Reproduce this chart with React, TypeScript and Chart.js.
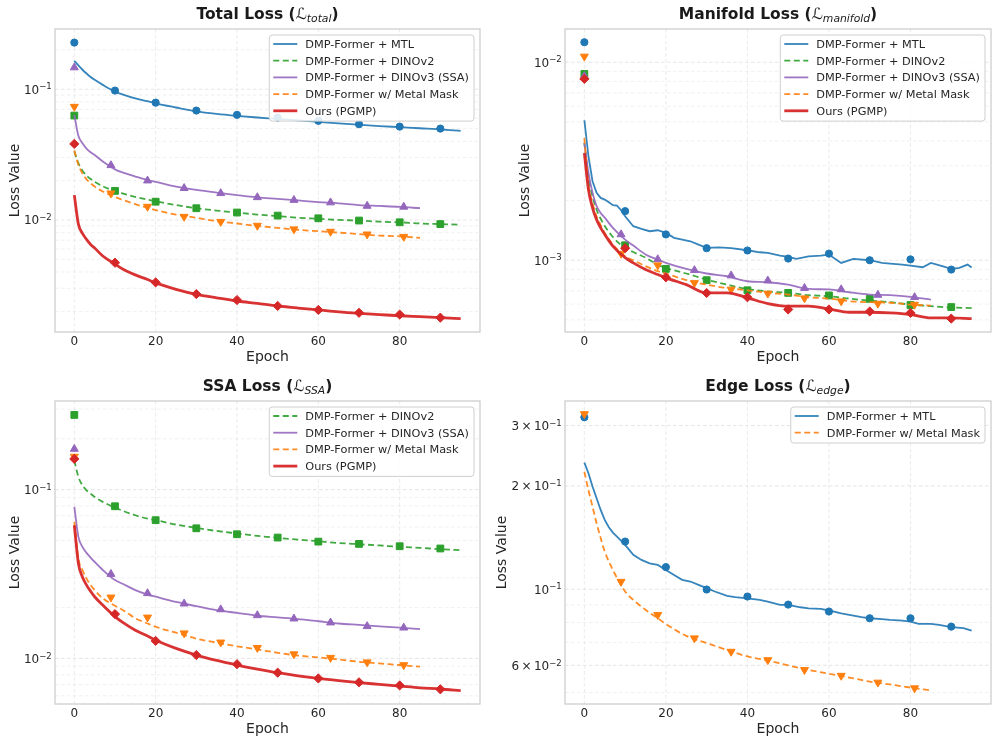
import React, { useEffect, useRef } from "react";
import { Chart, registerables } from "chart.js";

Chart.register(...registerables);

const FONT = '"DejaVu Sans", "Liberation Sans", Arial, sans-serif';
const TEXT = "#262626";

// ---------------- shared epochs / ticks ----------------
const LINE_EPOCHS = [0, 1, 2, 3, 4, 5, 7, 10, 12, 15, 18, 20, 25, 30, 35, 40, 45, 50, 55, 60, 65, 70, 75, 80, 85, 90, 95];
const MARKER_EPOCHS_10 = [0, 10, 20, 30, 40, 50, 60, 70, 80, 90];
const MARKER_EPOCHS_9 = [0, 9, 18, 27, 36, 45, 54, 63, 72, 81];
const MANIFOLD_MTL_EPOCHS = [0, 1, 2, 3, 4, 5, 6, 7, 8, 9, 10, 12, 14, 16, 18, 20, 22, 24, 26, 28, 30, 33, 36, 40, 43, 45, 48, 50, 52, 55, 58, 60, 63, 66, 70, 73, 75, 78, 80, 83, 85, 88, 90, 92, 94, 95];
const EDGE_MTL_EPOCHS = [0, 1, 2, 3, 4, 5, 6, 7, 8, 10, 12, 14, 16, 18, 20, 22, 24, 26, 28, 30, 32, 35, 37, 40, 43, 45, 48, 50, 53, 55, 58, 60, 63, 65, 68, 70, 73, 75, 78, 80, 82, 85, 87, 90, 93, 95];
const X_TICK_VALUES = [0, 20, 40, 60, 80];
const X_TICK_LABELS = ["0", "20", "40", "60", "80"];

// ---------------- Total loss ----------------
const totalMtl = [0.165, 0.152, 0.141, 0.132, 0.124, 0.118, 0.108, 0.096, 0.091, 0.085, 0.081, 0.078, 0.0725, 0.0678, 0.0648, 0.0626, 0.0608, 0.0593, 0.0577, 0.0563, 0.0548, 0.0535, 0.0523, 0.0513, 0.0503, 0.0494, 0.0481];
const totalDino2 = [0.0335, 0.0272, 0.0238, 0.0219, 0.0206, 0.0196, 0.0181, 0.0166, 0.0159, 0.015, 0.0143, 0.0139, 0.013, 0.0123, 0.0118, 0.0114, 0.011, 0.0107, 0.0104, 0.0102, 0.01, 0.0099, 0.0097, 0.0096, 0.0094, 0.0093, 0.0092];
const totalDino3 = [0.0637, 0.044, 0.0386, 0.0352, 0.033, 0.0314, 0.028, 0.0244, 0.023, 0.0215, 0.0202, 0.0196, 0.018, 0.017, 0.0162, 0.0155, 0.0149, 0.0145, 0.0141, 0.0137, 0.0134, 0.013, 0.0128, 0.0126, 0.0123];
const totalMetal = [0.034, 0.0265, 0.0226, 0.0205, 0.0191, 0.018, 0.0165, 0.015, 0.0142, 0.0132, 0.0124, 0.0119, 0.011, 0.0104, 0.0098, 0.0094, 0.009, 0.0087, 0.0084, 0.0082, 0.008, 0.0078, 0.0076, 0.0075, 0.0073];
const totalOurs = [0.0155, 0.0093, 0.0079, 0.0071, 0.0065, 0.0061, 0.0053, 0.0046, 0.0042, 0.0038, 0.0035, 0.0033, 0.00295, 0.0027, 0.00254, 0.0024, 0.0023, 0.0022, 0.00212, 0.00205, 0.00198, 0.00193, 0.00189, 0.00185, 0.00182, 0.00179, 0.00176];
const totalMtlMk = [0.2275, 0.0977, 0.079, 0.0687, 0.0637, 0.0607, 0.0573, 0.054, 0.0518, 0.05];
const totalDino2Mk = [0.0629, 0.0167, 0.0138, 0.0123, 0.0114, 0.0108, 0.0103, 0.0099, 0.0096, 0.0093];
const totalDino3Mk = [0.1466, 0.0262, 0.02, 0.0175, 0.016, 0.0149, 0.0142, 0.0136, 0.0128, 0.0126];
const totalMetalMk = [0.0736, 0.016, 0.01265, 0.0106, 0.0097, 0.00906, 0.0085, 0.00815, 0.00777, 0.00745];
const totalOursMk = [0.0382, 0.00471, 0.00333, 0.00271, 0.00244, 0.0022, 0.00205, 0.00195, 0.00189, 0.00179];
const TOTAL_Y_TICK_VALUES = [0.1, 0.01];
const TOTAL_Y_TICK_LABELS = [["10", "\u22121"], ["10", "\u22122"]];

// ---------------- Manifold loss ----------------
const manifoldMtl = [0.005094, 0.003351, 0.002506, 0.002188, 0.002064, 0.002025, 0.001963, 0.001896, 0.001889, 0.001789, 0.001668, 0.001485, 0.001439, 0.001401, 0.001417, 0.001374, 0.001297, 0.001272, 0.001247, 0.0012, 0.001154, 0.00116, 0.00115, 0.001123, 0.001097, 0.001089, 0.001056, 0.001039, 0.001016, 0.001047, 0.001056, 0.001068, 0.000969, 0.001016, 0.001, 0.000969, 0.000962, 0.000951, 0.00094, 0.000922, 0.000969, 0.000932, 0.000904, 0.000915, 0.000951, 0.000918];
const manifoldDino2 = [0.00392, 0.002656, 0.0021, 0.0018, 0.00162, 0.00149, 0.00131, 0.00115, 0.0011, 0.00103, 0.00095, 0.000914, 0.000857, 0.000798, 0.000753, 0.000716, 0.000696, 0.000684, 0.000666, 0.000658, 0.00064, 0.000625, 0.000614, 0.000597, 0.000586, 0.000577, 0.000573];
const manifoldDino3 = [0.0039, 0.00276, 0.00219, 0.001875, 0.001734, 0.00164, 0.001456, 0.00127, 0.001186, 0.00107, 0.001006, 0.00097, 0.000904, 0.000857, 0.00083, 0.000783, 0.000774, 0.000753, 0.000716, 0.000712, 0.000689, 0.000671, 0.000666, 0.000653, 0.000632];
const manifoldMetal = [0.00415, 0.00241, 0.00195, 0.001668, 0.001503, 0.001374, 0.0012, 0.001048, 0.001, 0.000933, 0.00088, 0.000857, 0.000793, 0.000753, 0.000723, 0.000705, 0.000684, 0.000671, 0.00065, 0.00064, 0.000621, 0.000614, 0.00061, 0.000597, 0.00059];
const manifoldOurs = [0.00348, 0.002275, 0.00184, 0.001604, 0.001456, 0.00135, 0.001178, 0.00103, 0.00097, 0.000898, 0.000847, 0.000815, 0.000753, 0.000684, 0.000684, 0.000646, 0.000604, 0.000586, 0.000586, 0.000567, 0.000546, 0.000546, 0.000542, 0.000532, 0.000512, 0.000512, 0.000507];
const manifoldMtlMk = [0.01262, 0.00177, 0.00135, 0.00115, 0.00112, 0.00102, 0.00108, 0.001, 0.00101, 0.000897];
const manifoldDino2Mk = [0.00873, 0.00119, 0.000904, 0.000793, 0.000705, 0.000684, 0.000664, 0.000638, 0.000594, 0.00058];
const manifoldDino3Mk = [0.0085, 0.00135, 0.00101, 0.00089, 0.000837, 0.000789, 0.000723, 0.000712, 0.000668, 0.00065];
const manifoldMetalMk = [0.0107, 0.00108, 0.000944, 0.000768, 0.000712, 0.000679, 0.000643, 0.000621, 0.000604, 0.000597];
const manifoldOursMk = [0.00824, 0.00115, 0.00082, 0.000683, 0.00065, 0.000564, 0.000564, 0.000551, 0.000542, 0.000507];
const MANIFOLD_Y_TICK_VALUES = [0.01, 0.001];
const MANIFOLD_Y_TICK_LABELS = [["10", "\u22122"], ["10", "\u22123"]];

// ---------------- SSA loss ----------------
const ssaDino2 = [0.149, 0.119, 0.106, 0.0991, 0.0947, 0.0905, 0.0846, 0.0782, 0.0748, 0.0705, 0.0673, 0.0659, 0.0621, 0.0593, 0.0569, 0.055, 0.0532, 0.0518, 0.0506, 0.0494, 0.0483, 0.0475, 0.0467, 0.0458, 0.0452, 0.0444, 0.0438];
const ssaDino3 = [0.079, 0.0525, 0.0458, 0.0422, 0.0396, 0.0373, 0.0334, 0.0291, 0.0276, 0.0254, 0.0239, 0.0232, 0.0216, 0.0204, 0.0193, 0.0186, 0.0179, 0.0175, 0.0171, 0.0166, 0.0161, 0.0158, 0.0155, 0.0152, 0.0149];
const ssaMetal = [0.0644, 0.039, 0.0334, 0.0297, 0.0272, 0.0254, 0.0227, 0.0205, 0.0193, 0.0173, 0.0161, 0.0154, 0.0142, 0.0131, 0.0124, 0.0118, 0.0113, 0.0108, 0.0104, 0.01014, 0.00986, 0.00955, 0.00934, 0.00914, 0.00893];
const ssaOurs = [0.0615, 0.0365, 0.0304, 0.0272, 0.025, 0.0232, 0.0207, 0.0177, 0.0163, 0.0147, 0.01356, 0.0128, 0.01146, 0.01047, 0.00973, 0.00914, 0.00865, 0.00823, 0.00789, 0.00761, 0.00738, 0.00718, 0.00702, 0.00686, 0.0067, 0.00659, 0.00644];
const ssaDino2Mk = [0.277, 0.0797, 0.0659, 0.059, 0.0544, 0.052, 0.0492, 0.0477, 0.0462, 0.0448];
const ssaDino3Mk = [0.174, 0.0316, 0.0243, 0.0211, 0.0195, 0.018, 0.0172, 0.0163, 0.0155, 0.0152];
const ssaMetalMk = [0.157, 0.023, 0.0175, 0.0141, 0.01245, 0.01156, 0.0106, 0.0101, 0.0095, 0.00914];
const ssaOursMk = [0.152, 0.0183, 0.0127, 0.01047, 0.00924, 0.00823, 0.00761, 0.00722, 0.00692, 0.00656];
const SSA_Y_TICK_VALUES = [0.1, 0.01];
const SSA_Y_TICK_LABELS = [["10", "\u22121"], ["10", "\u22122"]];

// ---------------- Edge loss ----------------
const edgeMtl = [0.2339, 0.2177, 0.1991, 0.1841, 0.1702, 0.1592, 0.1516, 0.1462, 0.1423, 0.1346, 0.1259, 0.1217, 0.119, 0.1177, 0.1138, 0.11, 0.1065, 0.1053, 0.103, 0.1007, 0.0985, 0.0956, 0.0948, 0.0941, 0.0931, 0.092, 0.09, 0.09, 0.0886, 0.088, 0.0876, 0.0867, 0.0851, 0.0842, 0.0829, 0.0823, 0.0818, 0.0814, 0.081, 0.0805, 0.0793, 0.0793, 0.0787, 0.0775, 0.077, 0.0758];
const edgeMetal = [0.22, 0.1944, 0.174, 0.1556, 0.141, 0.1288, 0.1138, 0.0985, 0.0931, 0.0871, 0.0823, 0.0792, 0.0731, 0.0697, 0.0665, 0.0637, 0.062, 0.06, 0.0582, 0.0567, 0.0553, 0.0538, 0.0528, 0.0517, 0.0507];
const edgeMtlMk = [0.317, 0.1377, 0.116, 0.0998, 0.0952, 0.0902, 0.0861, 0.0823, 0.0823, 0.0778];
const edgeMetalMk = [0.324, 0.1052, 0.0842, 0.072, 0.0658, 0.0622, 0.0582, 0.056, 0.0535, 0.0515];
const EDGE_Y_TICK_VALUES = [0.3, 0.2, 0.1, 0.06];
const EDGE_Y_TICK_LABELS = [["3\u2009\u00d7\u200910", "\u22121"], ["2\u2009\u00d7\u200910", "\u22121"], ["10", "\u22121"], ["6\u2009\u00d7\u200910", "\u22122"]];

// ---------------- styles ----------------
type SeriesKey = "mtl" | "dino2" | "dino3" | "metal" | "ours";
const SERIES_ORDER: SeriesKey[] = ["mtl", "dino2", "dino3", "metal", "ours"];
const STYLES: Record<SeriesKey, any> = {
  mtl: { label: "DMP-Former + MTL", color: "#1f77b4", line: "rgba(31,119,180,0.9)", dash: [], width: 1.8, marker: "circle", rot: 0, r: 3.6 },
  dino2: { label: "DMP-Former + DINOv2", color: "#2ca02c", line: "rgba(44,160,44,0.9)", dash: [6, 3.5], width: 1.8, marker: "rect", rot: 0, r: 4.8 },
  dino3: { label: "DMP-Former + DINOv3 (SSA)", color: "#9467bd", line: "rgba(148,103,189,0.9)", dash: [], width: 1.8, marker: "triangle", rot: 0, r: 4.6 },
  metal: { label: "DMP-Former w/ Metal Mask", color: "#ff7f0e", line: "rgba(255,127,14,0.9)", dash: [6, 3.5], width: 1.8, marker: "triangle", rot: 180, r: 4.6 },
  ours: { label: "Ours (PGMP)", color: "#d62728", line: "rgba(214,39,40,0.95)", dash: [], width: 2.8, marker: "rectRot", rot: 0, r: 4.6 },
};

interface SeriesData {
  key: SeriesKey;
  epochs: number[];
  values: number[];
  markerEpochs: number[];
  markerValues: number[];
  smooth: boolean;
}
interface PanelCfg {
  x: number; y: number; w: number; h: number;
  area: { left: number; top: number; right: number; bottom: number };
  titleMain: string; titleSub: string;
  yMin: number; yMax: number;
  yTickValues: number[]; yTickLabels: string[][];
  series: SeriesData[];
}

const S = (key: SeriesKey, epochs: number[], values: number[], markerEpochs: number[], markerValues: number[], smooth = true): SeriesData =>
  ({ key, epochs, values, markerEpochs, markerValues, smooth });

const PANELS: PanelCfg[] = [
  {
    x: 0, y: 0, w: 495, h: 370, area: { left: 55, top: 29, right: 480, bottom: 332 },
    titleMain: "Total Loss", titleSub: "total", yMin: 0.00139, yMax: 0.289,
    yTickValues: TOTAL_Y_TICK_VALUES, yTickLabels: TOTAL_Y_TICK_LABELS,
    series: [
      S("mtl", LINE_EPOCHS, totalMtl, MARKER_EPOCHS_10, totalMtlMk),
      S("dino2", LINE_EPOCHS, totalDino2, MARKER_EPOCHS_10, totalDino2Mk),
      S("dino3", LINE_EPOCHS, totalDino3, MARKER_EPOCHS_9, totalDino3Mk),
      S("metal", LINE_EPOCHS, totalMetal, MARKER_EPOCHS_9, totalMetalMk),
      S("ours", LINE_EPOCHS, totalOurs, MARKER_EPOCHS_10, totalOursMk),
    ],
  },
  {
    x: 495, y: 0, w: 502, h: 370, area: { left: 565, top: 29, right: 991, bottom: 332 },
    titleMain: "Manifold Loss", titleSub: "manifold", yMin: 0.000434, yMax: 0.01472,
    yTickValues: MANIFOLD_Y_TICK_VALUES, yTickLabels: MANIFOLD_Y_TICK_LABELS,
    series: [
      S("mtl", MANIFOLD_MTL_EPOCHS, manifoldMtl, MARKER_EPOCHS_10, manifoldMtlMk, false),
      S("dino2", LINE_EPOCHS, manifoldDino2, MARKER_EPOCHS_10, manifoldDino2Mk),
      S("dino3", LINE_EPOCHS, manifoldDino3, MARKER_EPOCHS_9, manifoldDino3Mk),
      S("metal", LINE_EPOCHS, manifoldMetal, MARKER_EPOCHS_9, manifoldMetalMk),
      S("ours", LINE_EPOCHS, manifoldOurs, MARKER_EPOCHS_10, manifoldOursMk),
    ],
  },
  {
    x: 0, y: 370, w: 495, h: 373, area: { left: 55, top: 401, right: 480, bottom: 704 },
    titleMain: "SSA Loss", titleSub: "SSA", yMin: 0.00537, yMax: 0.335,
    yTickValues: SSA_Y_TICK_VALUES, yTickLabels: SSA_Y_TICK_LABELS,
    series: [
      S("dino2", LINE_EPOCHS, ssaDino2, MARKER_EPOCHS_10, ssaDino2Mk),
      S("dino3", LINE_EPOCHS, ssaDino3, MARKER_EPOCHS_9, ssaDino3Mk),
      S("metal", LINE_EPOCHS, ssaMetal, MARKER_EPOCHS_9, ssaMetalMk),
      S("ours", LINE_EPOCHS, ssaOurs, MARKER_EPOCHS_10, ssaOursMk),
    ],
  },
  {
    x: 495, y: 370, w: 502, h: 373, area: { left: 565, top: 401, right: 991, bottom: 704 },
    titleMain: "Edge Loss", titleSub: "edge", yMin: 0.0463, yMax: 0.3535,
    yTickValues: EDGE_Y_TICK_VALUES, yTickLabels: EDGE_Y_TICK_LABELS,
    series: [
      S("mtl", EDGE_MTL_EPOCHS, edgeMtl, MARKER_EPOCHS_10, edgeMtlMk, false),
      S("metal", LINE_EPOCHS, edgeMetal, MARKER_EPOCHS_9, edgeMetalMk),
    ],
  },
];

function buildDatasets(p: PanelCfg) {
  const ds: any[] = [];
  p.series.forEach((s) => {
    const st = STYLES[s.key];
    const idx = SERIES_ORDER.indexOf(s.key);
    ds.push({
      type: "line",
      data: s.values.map((v, j) => ({ x: s.epochs[j], y: v })),
      borderColor: st.line,
      borderWidth: st.width,
      borderDash: st.dash,
      pointRadius: 0,
      pointHoverRadius: 0,
      fill: false,
      tension: s.smooth ? 0.4 : 0,
      cubicInterpolationMode: s.smooth ? "monotone" : "default",
      order: 100 - 2 * idx,
    });
    ds.push({
      type: "line",
      showLine: false,
      data: s.markerValues.map((v, j) => ({ x: s.markerEpochs[j], y: v })),
      pointStyle: st.marker,
      pointRadius: st.r,
      pointHoverRadius: st.r,
      pointRotation: st.rot,
      backgroundColor: st.color,
      borderColor: st.color,
      borderWidth: 1,
      order: 99 - 2 * idx,
    });
  });
  return ds;
}

function makePlugin(p: PanelCfg) {
  const gridValues = (min: number, max: number) => {
    const out: number[] = [];
    for (let e = Math.floor(Math.log10(min)); e <= Math.ceil(Math.log10(max)); e++) {
      for (let m = 1; m <= 9; m++) {
        const v = m * Math.pow(10, e);
        if (v >= min && v <= max) out.push(v);
      }
    }
    return out;
  };
  return {
    id: "decor",
    beforeDatasetsDraw(chart: any) {
      const { ctx, chartArea: a, scales } = chart;
      ctx.save();
      ctx.lineWidth = 0.8;
      ctx.setLineDash([3.5, 2.5]);
      gridValues(p.yMin, p.yMax).forEach((v) => {
        const major = p.yTickValues.some((t) => Math.abs(t - v) / t < 1e-6);
        const y = scales.y.getPixelForValue(v);
        ctx.strokeStyle = major ? "#dedede" : "#ececec";
        ctx.beginPath();
        ctx.moveTo(a.left, y);
        ctx.lineTo(a.right, y);
        ctx.stroke();
      });
      X_TICK_VALUES.forEach((v) => {
        const x = scales.x.getPixelForValue(v);
        ctx.strokeStyle = "#e4e4e4";
        ctx.beginPath();
        ctx.moveTo(x, a.top);
        ctx.lineTo(x, a.bottom);
        ctx.stroke();
      });
      ctx.restore();
    },
    afterDatasetsDraw(chart: any) {
      const { ctx, chartArea: a } = chart;
      ctx.save();
      // frame
      ctx.strokeStyle = "#cccccc";
      ctx.lineWidth = 1.25;
      ctx.strokeRect(a.left, a.top, a.right - a.left, a.bottom - a.top);
      // legend
      ctx.font = `11.3px ${FONT}`;
      const labels = p.series.map((s) => STYLES[s.key].label);
      const tw = Math.max(...labels.map((l) => ctx.measureText(l).width));
      const rowH = 16.7;
      const n = labels.length;
      const w = 4 + 24 + 8 + tw + 5;
      const h = 9 + (n - 1) * rowH + 10.3;
      const right = a.right - 6;
      const left = right - w;
      const top = a.top + 6;
      ctx.beginPath();
      if (ctx.roundRect) ctx.roundRect(left, top, w, h, 3);
      else ctx.rect(left, top, w, h);
      ctx.fillStyle = "rgba(255,255,255,0.85)";
      ctx.fill();
      ctx.strokeStyle = "#cfcfcf";
      ctx.lineWidth = 1;
      ctx.stroke();
      p.series.forEach((s, i) => {
        const st = STYLES[s.key];
        const cy = top + 9 + i * rowH;
        ctx.beginPath();
        ctx.setLineDash(st.dash);
        ctx.strokeStyle = st.line;
        ctx.lineWidth = st.width;
        ctx.moveTo(left + 4, cy);
        ctx.lineTo(left + 28, cy);
        ctx.stroke();
        ctx.setLineDash([]);
        ctx.fillStyle = TEXT;
        ctx.textAlign = "left";
        ctx.textBaseline = "alphabetic";
        ctx.fillText(st.label, left + 36, cy + 4);
      });
      ctx.restore();
    },
    afterDraw(chart: any) {
      const { ctx, chartArea: a, scales } = chart;
      ctx.save();
      ctx.fillStyle = TEXT;
      ctx.textBaseline = "alphabetic";
      // x tick labels
      ctx.font = `12px ${FONT}`;
      ctx.textAlign = "center";
      X_TICK_VALUES.forEach((v, i) => {
        ctx.fillText(X_TICK_LABELS[i], scales.x.getPixelForValue(v), a.bottom + 13);
      });
      // y tick labels
      let maxW = 0;
      const baseFont = `12px ${FONT}`;
      const supFont = `8.5px ${FONT}`;
      p.yTickValues.forEach((v, i) => {
        const [base, exp] = p.yTickLabels[i];
        const y = scales.y.getPixelForValue(v);
        ctx.font = supFont;
        const we = ctx.measureText(exp).width;
        ctx.font = baseFont;
        const wb = ctx.measureText(base).width;
        const rx = a.left - 3.3;
        ctx.textAlign = "left";
        ctx.fillText(base, rx - we - wb, y + 4.5);
        ctx.font = supFont;
        ctx.fillText(exp, rx - we, y + 0.2);
        maxW = Math.max(maxW, we + wb);
      });
      // axis titles
      ctx.font = `14px ${FONT}`;
      ctx.textAlign = "center";
      ctx.fillText("Epoch", (a.left + a.right) / 2, a.bottom + 29);
      ctx.save();
      const lx = a.left - 3.3 - maxW - 5;
      ctx.translate(lx, (a.top + a.bottom) / 2);
      ctx.rotate(-Math.PI / 2);
      ctx.fillText("Loss Value", 0, 0);
      ctx.restore();
      // title
      const parts: [string, string, number][] = [
        [p.titleMain + " (", `bold 15.5px ${FONT}`, 0],
        ["\u2112", `italic 15.5px ${FONT}`, 0],
        [p.titleSub, `italic 10.8px ${FONT}`, 3.2],
        [")", `bold 15.5px ${FONT}`, 0],
      ];
      let total = 0;
      const widths = parts.map(([t, f]) => {
        ctx.font = f;
        const wv = ctx.measureText(t).width;
        total += wv;
        return wv;
      });
      let tx = (a.left + a.right) / 2 - total / 2;
      const tb = a.top - 10.5;
      ctx.textAlign = "left";
      ctx.fillStyle = "#1a1a1a";
      parts.forEach(([t, f, dy], i) => {
        ctx.font = f;
        ctx.fillText(t, tx, tb + dy);
        tx += widths[i];
      });
      ctx.restore();
    },
  };
}

function Panel({ p }: { p: PanelCfg }) {
  const ref = useRef<HTMLCanvasElement>(null);
  useEffect(() => {
    const canvas = ref.current;
    if (!canvas) return;
    const padTop = p.area.top - p.y;
    const padRight = p.x + p.w - p.area.right;
    const yWidth = p.area.left - p.x;
    const xHeight = p.y + p.h - p.area.bottom;
    const chart = new Chart(canvas, {
      type: "line",
      data: { datasets: buildDatasets(p) },
      options: {
        responsive: false,
        animation: false,
        events: [],
        layout: { padding: { left: 0, top: padTop, right: padRight, bottom: 0 } },
        plugins: {
          legend: { display: false },
          tooltip: { enabled: false },
          title: { display: false },
        },
        scales: {
          x: {
            type: "linear",
            min: -4.75,
            max: 99.75,
            bounds: "data",
            grid: { display: false },
            border: { display: false },
            ticks: { display: false },
            afterFit: (s: any) => { s.height = xHeight; },
          },
          y: {
            type: "logarithmic",
            min: p.yMin,
            max: p.yMax,
            bounds: "data",
            grid: { display: false },
            border: { display: false },
            ticks: { display: false },
            afterFit: (s: any) => { s.width = yWidth; },
          },
        },
      } as any,
      plugins: [makePlugin(p)],
    });
    return () => chart.destroy();
  }, [p]);
  return (
    <canvas
      ref={ref}
      width={p.w}
      height={p.h}
      style={{ position: "absolute", left: p.x, top: p.y, width: p.w, height: p.h, display: "block" }}
    />
  );
}

export default function App() {
  return (
    <div style={{ position: "fixed", left: 0, top: 0, width: 997, height: 743, background: "#ffffff", overflow: "hidden" }}>
      {PANELS.map((p, i) => (
        <Panel key={i} p={p} />
      ))}
    </div>
  );
}
